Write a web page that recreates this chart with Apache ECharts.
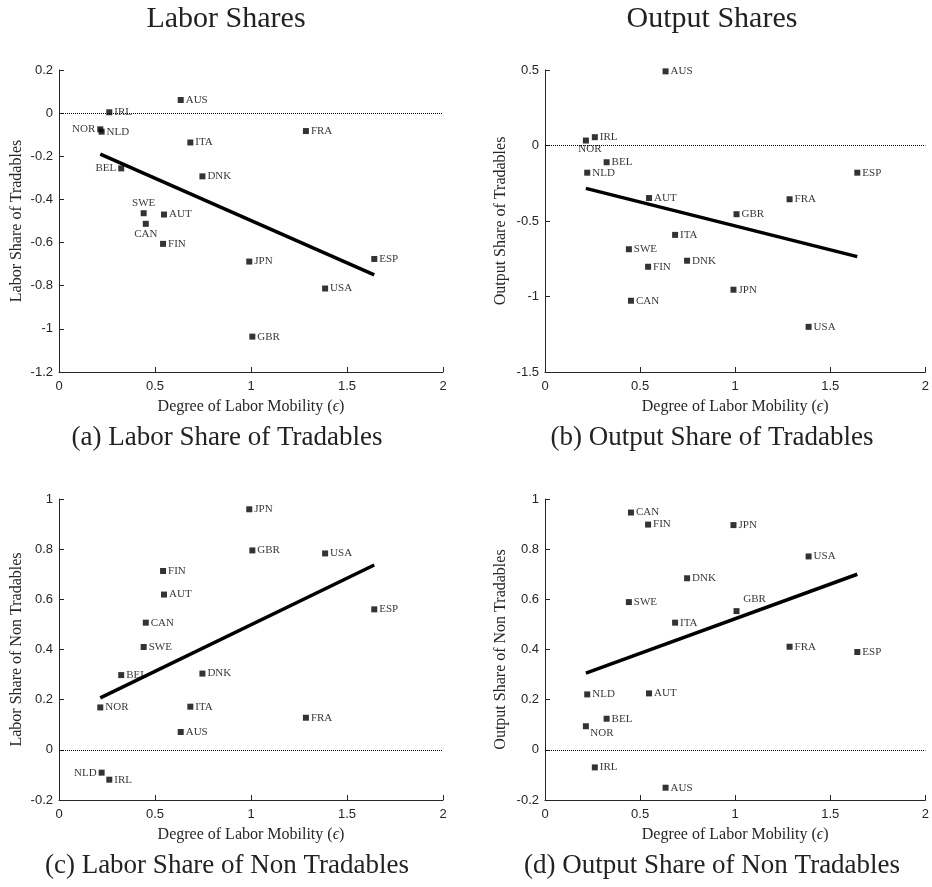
<!DOCTYPE html>
<html>
<head>
    <meta charset="utf-8">
    <script src="https://cdn.jsdelivr.net/npm/echarts@6/dist/echarts.min.js"></script>
    <style>
        body { margin: 0; background: #fff; }
    </style>
</head>
<body>
    <div id="main" style="width: 932px;height:887px;"></div>
    <script type="text/javascript">
        // countries and their degree of labor mobility (epsilon)
        var countries = ['AUS','AUT','BEL','CAN','DNK','ESP','FIN','FRA','GBR','IRL','ITA','JPN','NLD','NOR','SWE','USA'];
        var mobility  = [0.634, 0.547, 0.324, 0.452, 0.747, 1.642, 0.542, 1.286, 1.007, 0.262, 0.684, 0.991, 0.222, 0.215, 0.441, 1.386];

        // changes in shares, same order as countries
        var laborTradables     = [0.061, -0.470, -0.256, -0.513, -0.293, -0.676, -0.606, -0.083, -1.036, 0.004, -0.136, -0.688, -0.086, -0.075, -0.464, -0.813];
        var outputTradables    = [0.491, -0.348, -0.111, -1.028, -0.763, -0.180, -0.803, -0.356, -0.455, 0.055, -0.592, -0.955, -0.180, 0.033, -0.687, -1.201];
        var laborNonTradables  = [0.071, 0.619, 0.298, 0.507, 0.304, 0.560, 0.713, 0.128, 0.795, -0.119, 0.172, 0.959, -0.091, 0.169, 0.410, 0.783];
        var outputNonTradables = [-0.151, 0.225, 0.124, 0.946, 0.684, 0.390, 0.898, 0.411, 0.553, -0.070, 0.507, 0.896, 0.221, 0.094, 0.589, 0.771];

        // fitted lines (end points)
        var fitX = [0.215, 1.642];
        var fitLaborTradables     = [-0.190, -0.750];
        var fitOutputTradables    = [-0.284, -0.736];
        var fitLaborNonTradables  = [0.207, 0.737];
        var fitOutputNonTradables = [0.306, 0.700];

        var xTicks = [0, 2, 0.5];
        var yTicksA = [-1.2, 0.2, 0.2];
        var yTicksB = [-1.5, 0.5, 0.5];
        var yTicksCD = [-0.2, 1, 0.2];

        var serif = '"Liberation Serif", "DejaVu Serif", serif';
        var sans = '"Liberation Sans", Arial, sans-serif';

        var panels = [
            {grid: {left: 59, top: 70, width: 384, height: 302}, y: laborTradables, fit: fitLaborTradables, ticks: yTicksA,
             yName: 'Labor Share of Tradables', gap: 34,
             labels: {NOR: {position: 'left'}, BEL: {position: 'left'}, SWE: {position: 'top'}, CAN: {position: 'bottom'}}},
            {grid: {left: 545, top: 70, width: 384, height: 302}, y: outputTradables, fit: fitOutputTradables, ticks: yTicksB,
             yName: 'Output Share of Tradables', gap: 36,
             labels: {NOR: {position: 'bottom', offset: [4, -2]}}},
            {grid: {left: 59, top: 499, width: 384, height: 301}, y: laborNonTradables, fit: fitLaborNonTradables, ticks: yTicksCD,
             yName: 'Labor Share of Non Tradables', gap: 34,
             labels: {NLD: {position: 'left'}}},
            {grid: {left: 545, top: 499, width: 384, height: 301}, y: outputNonTradables, fit: fitOutputNonTradables, ticks: yTicksCD,
             yName: 'Output Share of Non Tradables', gap: 36,
             labels: {GBR: {position: 'top', offset: [18, -2]}, NOR: {position: 'bottom', offset: [16, -4]}}}
        ];

        function tickFmt(v) {
            return String(Math.round(v * 100) / 100);
        }

        var option = {
            backgroundColor: '#fff',
            animation: false,
            grid: [], xAxis: [], yAxis: [], series: [],
            graphic: [
                {type: 'text', x: 226, y: 19, style: {text: 'Labor Shares', font: '30px ' + serif, fill: '#222', align: 'center', verticalAlign: 'middle'}},
                {type: 'text', x: 712, y: 19, style: {text: 'Output Shares', font: '30px ' + serif, fill: '#222', align: 'center', verticalAlign: 'middle'}},
                {type: 'text', x: 227, y: 438, style: {text: '(a) Labor Share of Tradables', font: '27px ' + serif, fill: '#222', align: 'center', verticalAlign: 'middle'}},
                {type: 'text', x: 712, y: 438, style: {text: '(b) Output Share of Tradables', font: '27px ' + serif, fill: '#222', align: 'center', verticalAlign: 'middle'}},
                {type: 'text', x: 227, y: 866, style: {text: '(c) Labor Share of Non Tradables', font: '27px ' + serif, fill: '#222', align: 'center', verticalAlign: 'middle'}},
                {type: 'text', x: 712, y: 866, style: {text: '(d) Output Share of Non Tradables', font: '27px ' + serif, fill: '#222', align: 'center', verticalAlign: 'middle'}}
            ]
        };

        panels.forEach(function (p, i) {
            option.grid.push(p.grid);
            option.xAxis.push({
                gridIndex: i, type: 'value', min: xTicks[0], max: xTicks[1], interval: xTicks[2],
                name: 'Degree of Labor Mobility ({e|ϵ})', nameLocation: 'middle', nameGap: 27,
                nameTextStyle: {fontFamily: serif, fontSize: 16, color: '#262626',
                    rich: {e: {fontFamily: serif, fontSize: 16, fontStyle: 'italic', color: '#262626'}}},
                axisLine: {onZero: false, lineStyle: {color: '#262626', width: 1}},
                axisTick: {inside: true, length: 5, lineStyle: {color: '#262626'}},
                axisLabel: {fontFamily: sans, fontSize: 13, color: '#262626', margin: 8, formatter: tickFmt},
                splitLine: {show: false}
            });
            option.yAxis.push({
                gridIndex: i, type: 'value', min: p.ticks[0], max: p.ticks[1], interval: p.ticks[2],
                name: p.yName, nameLocation: 'middle', nameGap: p.gap,
                nameTextStyle: {fontFamily: serif, fontSize: 16, color: '#262626'},
                axisLine: {show: true, onZero: false, lineStyle: {color: '#262626', width: 1}},
                axisTick: {show: true, inside: true, length: 5, lineStyle: {color: '#262626'}},
                axisLabel: {fontFamily: sans, fontSize: 13, color: '#262626', margin: 6, formatter: tickFmt},
                splitLine: {show: false}
            });

            // fitted line
            option.series.push({
                type: 'line', xAxisIndex: i, yAxisIndex: i, z: 1,
                showSymbol: false, silent: true,
                lineStyle: {color: '#000', width: 3.5},
                data: [[fitX[0], p.fit[0]], [fitX[1], p.fit[1]]]
            });

            // countries
            option.series.push({
                type: 'scatter', xAxisIndex: i, yAxisIndex: i, z: 3,
                symbol: 'rect', symbolSize: 6,
                itemStyle: {color: '#000'},
                label: {show: true, position: 'right', distance: 2, fontFamily: serif, fontSize: 11, color: '#000',
                    formatter: function (d) { return d.name; }},
                markLine: {
                    silent: true, symbol: 'none',
                    label: {show: false},
                    lineStyle: {color: '#000', type: 'dotted', width: 1},
                    data: [{yAxis: 0}]
                },
                data: countries.map(function (c, k) {
                    var item = {name: c, value: [mobility[k], p.y[k]]};
                    if (p.labels[c]) item.label = p.labels[c];
                    return item;
                })
            });
        });

        var myChart = echarts.init(document.getElementById('main'));
        myChart.setOption(option);
    </script>
</body>
</html>
